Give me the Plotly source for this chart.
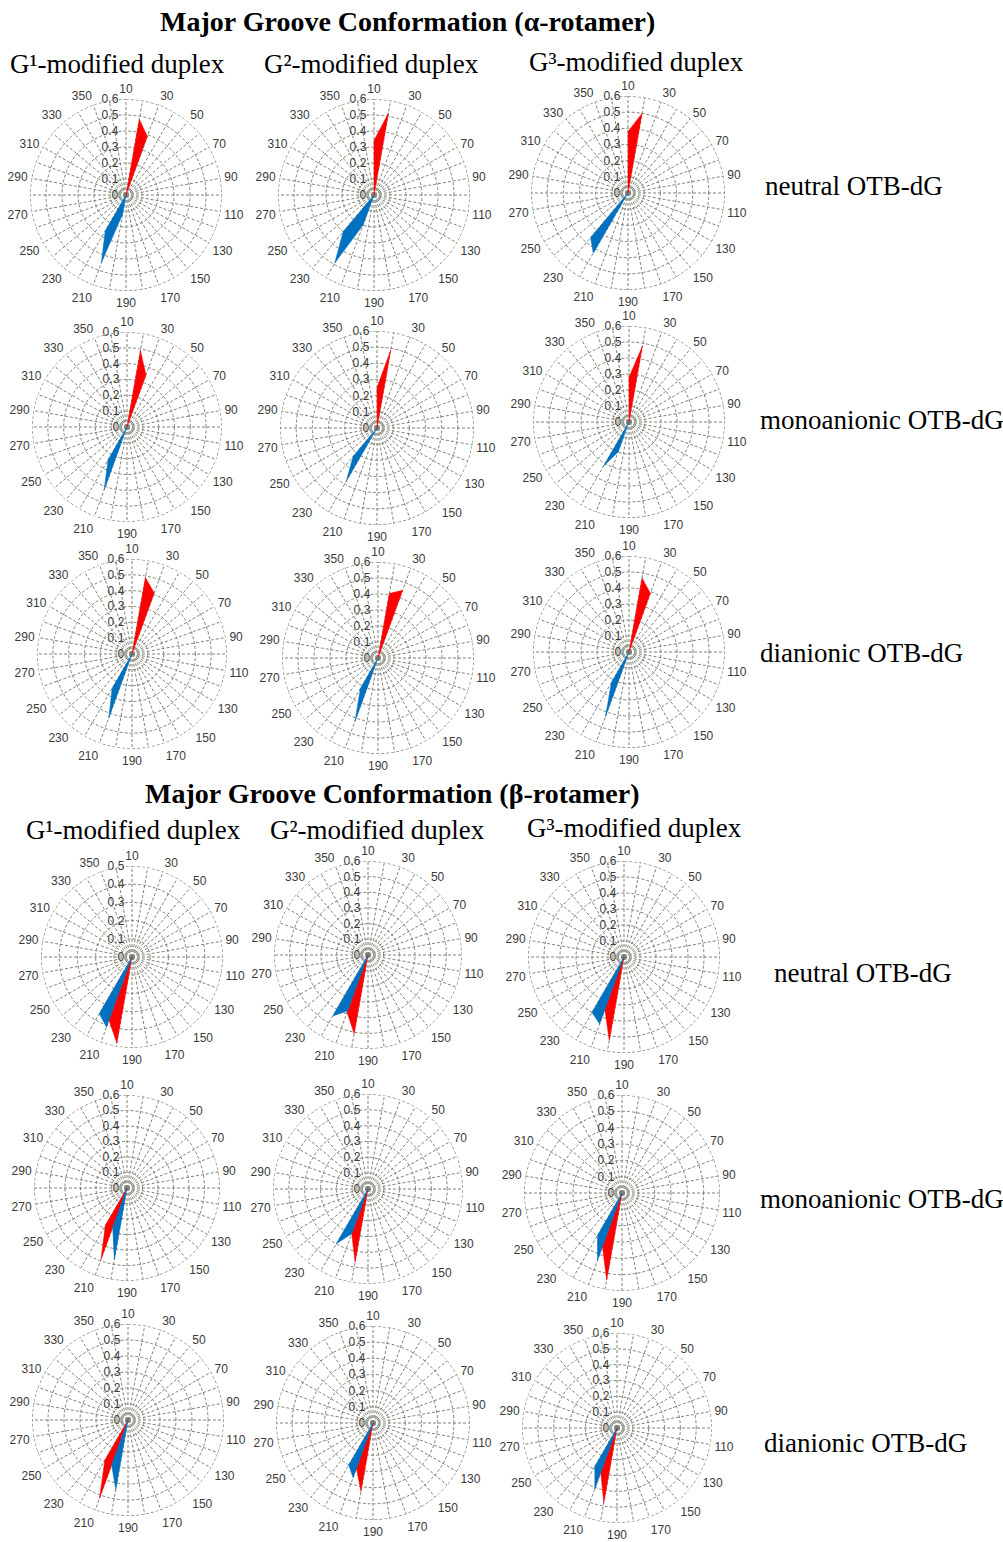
import plotly.graph_objects as go

W, H = 1003, 1542

# Angular bins (degrees); labels are shown on every other spoke
CATEGORIES = list(range(10, 361, 10))
LABELLED = [c for c in CATEGORIES if (c // 10) % 2 == 1]
UNLABELLED = [c for c in CATEGORIES if (c // 10) % 2 == 0]

# Populations per torsion bin (only the non-zero bins are listed)
# alpha-rotamer, neutral OTB-dG
A_NEU_G1_RED = {20: 0.48, 30: 0.39}
A_NEU_G1_BLUE = {200: 0.12, 210: 0.45, 220: 0.26}
A_NEU_G2_RED = {10: 0.34, 20: 0.52}
A_NEU_G2_BLUE = {210: 0.20, 220: 0.49, 230: 0.30}
A_NEU_G3_RED = {10: 0.38, 20: 0.50}
A_NEU_G3_BLUE = {220: 0.43, 230: 0.36}
# alpha-rotamer, monoanionic OTB-dG
A_MONO_G1_RED = {20: 0.49, 30: 0.35}
A_MONO_G1_BLUE = {210: 0.42, 220: 0.24}
A_MONO_G2_RED = {10: 0.25, 20: 0.49}
A_MONO_G2_BLUE = {220: 0.38, 230: 0.23}
A_MONO_G3_RED = {10: 0.28, 20: 0.48}
A_MONO_G3_BLUE = {210: 0.20, 220: 0.32}
# alpha-rotamer, dianionic OTB-dG
A_DI_G1_RED = {20: 0.49, 30: 0.41}
A_DI_G1_BLUE = {210: 0.43, 220: 0.25}
A_DI_G2_RED = {20: 0.41, 30: 0.45}
A_DI_G2_BLUE = {210: 0.42, 220: 0.22}
A_DI_G3_RED = {20: 0.47, 30: 0.39}
A_DI_G3_BLUE = {210: 0.43, 220: 0.22}
# beta-rotamer, neutral OTB-dG
B_NEU_G1_RED = {200: 0.48, 210: 0.37}
B_NEU_G1_BLUE = {210: 0.41, 220: 0.36}
B_NEU_G2_RED = {200: 0.51, 210: 0.39}
B_NEU_G2_BLUE = {210: 0.38, 220: 0.45}
B_NEU_G3_RED = {200: 0.53, 210: 0.35}
B_NEU_G3_BLUE = {210: 0.445, 220: 0.40}
# beta-rotamer, monoanionic OTB-dG
B_MONO_G1_RED = {210: 0.49, 220: 0.28}
B_MONO_G1_BLUE = {200: 0.47, 210: 0.27}
B_MONO_G2_RED = {200: 0.47, 210: 0.30}
B_MONO_G2_BLUE = {210: 0.30, 220: 0.40}
B_MONO_G3_RED = {200: 0.54, 210: 0.35}
B_MONO_G3_BLUE = {210: 0.44, 220: 0.30}
# beta-rotamer, dianionic OTB-dG
B_DI_G1_RED = {210: 0.52, 220: 0.29}
B_DI_G1_BLUE = {200: 0.44, 210: 0.30}
B_DI_G2_RED = {200: 0.43, 210: 0.30}
B_DI_G2_BLUE = {210: 0.36, 220: 0.30}
B_DI_G3_RED = {200: 0.48, 210: 0.30}
B_DI_G3_BLUE = {210: 0.41, 220: 0.28}

# Radial axis maxima per panel
A_RMAX = [0.6] * 9
B_RMAX = [0.5, 0.6, 0.6, 0.6, 0.6, 0.6, 0.6, 0.6, 0.6]

PANELS = [
    (A_NEU_G1_RED, A_NEU_G1_BLUE), (A_NEU_G2_RED, A_NEU_G2_BLUE), (A_NEU_G3_RED, A_NEU_G3_BLUE),
    (A_MONO_G1_RED, A_MONO_G1_BLUE), (A_MONO_G2_RED, A_MONO_G2_BLUE), (A_MONO_G3_RED, A_MONO_G3_BLUE),
    (A_DI_G1_RED, A_DI_G1_BLUE), (A_DI_G2_RED, A_DI_G2_BLUE), (A_DI_G3_RED, A_DI_G3_BLUE),
    (B_NEU_G1_RED, B_NEU_G1_BLUE), (B_NEU_G2_RED, B_NEU_G2_BLUE), (B_NEU_G3_RED, B_NEU_G3_BLUE),
    (B_MONO_G1_RED, B_MONO_G1_BLUE), (B_MONO_G2_RED, B_MONO_G2_BLUE), (B_MONO_G3_RED, B_MONO_G3_BLUE),
    (B_DI_G1_RED, B_DI_G1_BLUE), (B_DI_G2_RED, B_DI_G2_BLUE), (B_DI_G3_RED, B_DI_G3_BLUE),
]
RMAX = A_RMAX + B_RMAX

# Panel placement in pixels: centre x, centre y, radius
GEOMETRY = [
    (126, 195, 96), (374, 195, 96), (628, 193, 97),
    (127, 427, 95), (377, 428, 97), (629, 422, 96),
    (132, 654, 95), (378, 658, 96), (629, 652, 96),
    (132, 957, 91), (368, 955, 94), (624, 957, 96),
    (127, 1188, 93), (368, 1189, 95), (622, 1193, 98),
    (128, 1420, 96), (373, 1423, 97), (617, 1428, 95),
]

RED = "#ff0000"
BLUE = "#0070c0"
GRID = "#7d8476"
DASH = "3px,2px"
TICK_FONT = dict(family="Liberation Sans, Arial, sans-serif", size=12, color="#3a3a3a")


def full_series(values):
    return [values.get(c, 0.0) for c in CATEGORIES]


fig = go.Figure()
layout_polars = {}

for i, ((red, blue), rmax, (cx, cy, r)) in enumerate(zip(PANELS, RMAX, GEOMETRY)):
    name = "polar" if i == 0 else f"polar{i + 1}"
    # unlabelled spokes of the radar grid
    sr, st = [], []
    for c in UNLABELLED:
        sr += [0, rmax, None]
        st += [c, c, None]
    fig.add_trace(go.Scatterpolar(
        r=sr, theta=st, mode="lines",
        line=dict(color=GRID, width=1, dash=DASH),
        subplot=name, showlegend=False, hoverinfo="skip",
    ))
    # outer dashed ring of the radar grid
    fig.add_trace(go.Scatterpolar(
        r=[rmax] * (len(CATEGORIES) + 1),
        theta=CATEGORIES + [CATEGORIES[0]],
        mode="lines",
        line=dict(color=GRID, width=1, dash=DASH),
        subplot=name, showlegend=False, hoverinfo="skip",
    ))
    for series, color in ((red, RED), (blue, BLUE)):
        vals = full_series(series)
        fig.add_trace(go.Scatterpolar(
            r=vals + [vals[0]],
            theta=CATEGORIES + [CATEGORIES[0]],
            mode="lines",
            fill="toself",
            fillcolor=color,
            line=dict(color=color, width=0.5),
            subplot=name,
            showlegend=False,
            hoverinfo="skip",
        ))
    rticks = [round(k * 0.1, 1) for k in range(int(round(rmax * 10)) + 1)]
    layout_polars[name] = dict(
        domain=dict(x=[(cx - r) / W, (cx + r) / W],
                    y=[1 - (cy + r) / H, 1 - (cy - r) / H]),
        bgcolor="white",
        gridshape="circular",
        angularaxis=dict(
            direction="clockwise",
            rotation=100,
            tickmode="array",
            tickvals=LABELLED,
            ticktext=[str(c) for c in LABELLED],
            ticks="outside",
            ticklen=1,
            tickcolor="rgba(0,0,0,0)",
            showline=False,
            gridcolor=GRID,
            griddash=DASH,
            gridwidth=1,
            tickfont=TICK_FONT,
        ),
        radialaxis=dict(
            range=[0, rmax],
            tickmode="array",
            tickvals=rticks,
            ticktext=[("0" if v == 0 else f"{v:g}") for v in rticks],
            angle=90,
            side="counterclockwise",
            showline=False,
            ticks="outside",
            ticklen=3,
            tickcolor="rgba(0,0,0,0)",
            gridcolor=GRID,
            griddash=DASH,
            gridwidth=1,
            tickfont=TICK_FONT,
            tickangle=90,
        ),
    )

fig.update_layout(**layout_polars)

SERIF = "Liberation Serif, Times New Roman, serif"
annotations = []


def text(x, y, s, size, bold=False):
    annotations.append(dict(
        x=x / W, y=1 - y / H, xref="paper", yref="paper",
        text=f"<b>{s}</b>" if bold else s,
        showarrow=False, xanchor="left", yanchor="middle",
        font=dict(family=SERIF, size=size, color="black"),
    ))


text(158, 22, "Major Groove Conformation (α-rotamer)", 28, bold=True)
text(143, 794, "Major Groove Conformation (β-rotamer)", 28, bold=True)

SUPERSCRIPTS = {1: "¹", 2: "²", 3: "³"}
for x, y, k in [(8, 64, 1), (262, 64, 2), (527, 62, 3),
                (24, 830, 1), (268, 830, 2), (525, 828, 3)]:
    text(x, y, f"G{SUPERSCRIPTS[k]}-modified duplex", 27)

for x, y, s in [(763, 186, "neutral OTB-dG"), (758, 420, "monoanionic OTB-dG"),
                (758, 653, "dianionic OTB-dG"), (772, 973, "neutral OTB-dG"),
                (758, 1199, "monoanionic OTB-dG"), (762, 1443, "dianionic OTB-dG")]:
    text(x, y, s, 27)

fig.update_layout(
    width=W, height=H,
    margin=dict(l=0, r=0, t=0, b=0),
    paper_bgcolor="white",
    annotations=annotations,
)

fig.write_html("out.html")
